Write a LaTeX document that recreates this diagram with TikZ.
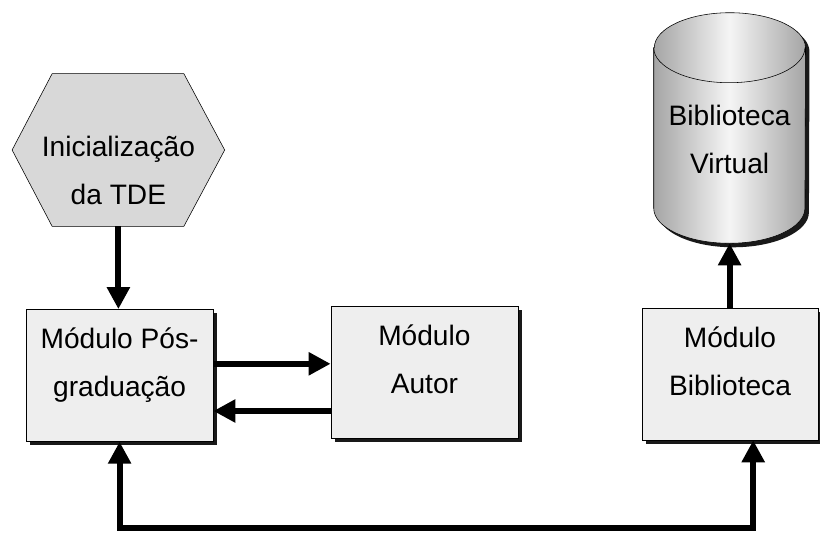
\documentclass[tikz,border=0pt]{standalone}
\usepackage{fontspec}
\setmainfont{Liberation Sans}
\definecolor{boxgray}{RGB}{238, 238, 238}
\definecolor{hexgray}{RGB}{216, 216, 216}
\definecolor{cylgray}{RGB}{165, 165, 165}
\usetikzlibrary{arrows.meta, shadows, backgrounds}

\begin{document}
\begin{tikzpicture}[
  txt/.style={align=center, font=\fontsize{20}{34}\selectfont},
  dark/.style={drop shadow={shadow xshift=0.1cm, shadow yshift=-0.1cm, fill=black!90, opacity=1}},
  modbox/.style={txt, dark, draw, fill=boxgray, minimum width=4.675cm, minimum height=3.3cm, text height=1.2cm, text depth=0.14cm},
  conn/.style={line width=0.15cm, >={Triangle[length=0.55cm, width=0.55cm]}},
  lid/.style={x radius=1.89cm, y radius=0.875cm}
]
  \useasboundingbox (0, 0) rectangle (20.5, 13.325);
  \coordinate (base) at (0, 0.13);

  % Start of the thesis
  \node[txt, minimum width=5.3cm, minimum height=3.8cm, text height=2.84cm, text depth=0.14cm] (init) at (2.96, 9.575) {Inicialização\\da TDE};

  % Modules
  \node[modbox] (pos) at (2.99, 3.94) {Módulo Pós-\\graduação};
  \node[modbox] (autor) at (10.61, 4.025) {Módulo\\Autor};
  \node[modbox, minimum width=4.4cm] (bib) at (18.25, 3.975) {Módulo\\Biblioteca};

  % Digital library
  \node[txt, minimum width=3.78cm, minimum height=5.75cm, text height=2.42cm, text depth=0.14cm] (virt) at (18.24, 10.125) {Biblioteca\\Virtual};

  \begin{pgfonlayer}{background}
    \draw[fill=hexgray] (init.west) -- ([xshift=1cm]init.north west) -- ([xshift=-1.02cm]init.north east) -- (init.east)
      -- ([xshift=-1.02cm]init.south east) -- ([xshift=1cm]init.south west) -- cycle;
    \draw[dark, left color=cylgray, right color=cylgray, middle color=white!92!gray]
      ([yshift=-0.875cm]virt.north west) -- ([yshift=0.875cm]virt.south west) arc[lid, start angle=180, end angle=360]
      -- ([yshift=-0.875cm]virt.north east) arc[lid, start angle=0, end angle=180] -- cycle;
    \draw ([yshift=-0.875cm]virt.north west) arc[lid, start angle=180, end angle=360];
  \end{pgfonlayer}

  \draw[conn, ->] (init.south) -- (init.south |- pos.north);
  \draw[conn, ->] ([yshift=0.29cm]pos.east) -- ([yshift=0.29cm]pos.east -| autor.west);
  \draw[conn, ->] ([yshift=-0.89cm]pos.east -| autor.west) -- ([yshift=-0.89cm]pos.east);
  \draw[conn, ->] (bib.north -| virt.south) -- (virt.south);
  \draw[conn, <->] (pos.south) -- (pos.south |- base) -| ([xshift=0.58cm]bib.south);
\end{tikzpicture}
\end{document}
